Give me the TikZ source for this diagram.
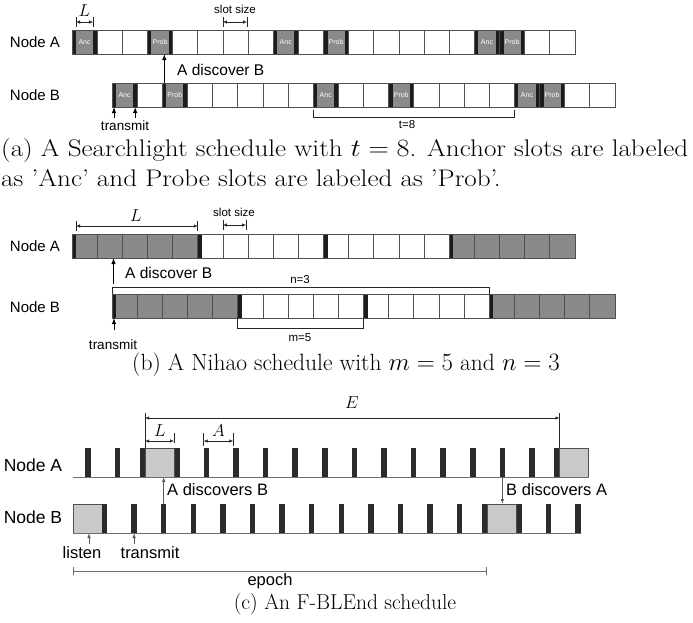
\documentclass[tikz,border=0pt]{standalone}
\usepackage{fontspec}
\setsansfont{Liberation Sans}
\usetikzlibrary{arrows.meta,calc}
\definecolor{SlotGray}{HTML}{8A8A8A}
\definecolor{SlotEdge}{HTML}{505050}
\definecolor{BarBlack}{HTML}{1C1C1C}
\definecolor{BarTick}{HTML}{2B2B2B}
\definecolor{BoxGray}{HTML}{C9C9C9}
\definecolor{LineGray}{HTML}{6E6E6E}
\tikzset{
  slot/.style={draw=SlotEdge, line width=0.8pt, minimum width=25.15pt,
               minimum height=24pt, inner sep=0pt, outer sep=0pt},
  wt/.style={fill=white},
  gr/.style={fill=SlotGray},
  leadbar/.style={path picture={\fill[BarBlack] (path picture bounding box.north west)
                  rectangle ([xshift=4pt]path picture bounding box.south west);}},
  gl/.style={gr, leadbar},
  wl/.style={wt, leadbar},
  sp/.style={fill=SlotGray, text=white, font=\sffamily\fontsize{7}{7}\selectfont,
             path picture={\fill[BarBlack] (path picture bounding box.north west)
               rectangle ([xshift=4pt]path picture bounding box.south west);
               \fill[BarBlack] (path picture bounding box.north east)
               rectangle ([xshift=-4pt]path picture bounding box.south east);}},
  tick/.style={fill=BarTick, minimum width=5.5pt, minimum height=29pt,
               inner sep=0pt, outer sep=0pt, anchor=south},
  lbox/.style={draw=SlotEdge, fill=BoxGray, line width=0.6pt, minimum width=29pt,
               minimum height=29pt, inner sep=0pt, outer sep=0pt},
  track/.style={draw=LineGray, line width=1pt},
  nodename/.style={font=\sffamily\fontsize{15}{15}\selectfont},
  nodenamec/.style={font=\sffamily\fontsize{17.5}{17.5}\selectfont},
  note/.style={font=\sffamily\fontsize{15.5}{16}\selectfont, inner sep=1pt},
  txlabel/.style={font=\sffamily\fontsize{13.5}{14}\selectfont, inner sep=1pt},
  small/.style={font=\sffamily\fontsize{11.5}{12}\selectfont, inner sep=1pt},
  clabel/.style={font=\sffamily\fontsize{16.5}{17}\selectfont, inner sep=1pt},
  mathlbl/.style={font=\fontsize{18}{18}\selectfont, inner sep=1pt},
  caption/.style={font=\fontsize{21.5}{27}\selectfont, inner sep=0pt},
  arrow/.style={-{Latex[length=6pt,width=4.5pt]}, line width=1pt, black},
  thinarrow/.style={-{Latex[length=5pt,width=3.5pt]}, line width=0.8pt, LineGray!80!black},
  dimarrow/.style={{Latex[length=4pt,width=3.5pt]}-{Latex[length=4pt,width=3.5pt]},
                   line width=0.7pt, black!85},
  dimthin/.style={line width=0.7pt, black!85},
  bracket/.style={line width=0.8pt, black!85},
  epoch/.style={{Bar[width=8pt]}-{Bar[width=8pt]}, line width=0.8pt, LineGray},
}

\begin{document}
\begin{tikzpicture}[x=1pt, y=-1pt]
  \useasboundingbox (0,0) rectangle (693,622);

  % Searchlight
  \node[nodename] (aNA) at (35,42) {Node A};
  \node[nodename] (aNB) at (35,95) {Node B};
  \foreach \sty/\lab [count=\i from 0] in {sp/Anc,wt/{},wt/{},sp/Prob,wt/{},wt/{},wt/{},wt/{},sp/Anc,wt/{},sp/Prob,wt/{},wt/{},wt/{},wt/{},wt/{},sp/Anc,sp/Prob,wt/{},wt/{}}
    \node[slot, \sty] (sA\i) at ({84.575+25.15*\i}, 42) {\lab};
  \foreach \sty/\lab [count=\i from 0] in {sp/Anc,wt/{},sp/Prob,wt/{},wt/{},wt/{},wt/{},wt/{},sp/Anc,wt/{},wt/{},sp/Prob,wt/{},wt/{},wt/{},wt/{},sp/Anc,sp/Prob,wt/{},wt/{}}
    \node[slot, \sty] (sB\i) at ({124.575+25.15*\i}, 95) {\lab};

  \coordinate (aL1) at ($(sA0.north west)+(4,-8)$);
  \coordinate (aL2) at ($(sA0.north east)+(-4,-8)$);
  \draw[dimarrow] (aL1) -- (aL2);
  \draw[dimthin] (aL1) ++(0,-5) -- ++(0,10) (aL2) ++(0,-5) -- ++(0,10);
  \node[mathlbl] (aL) at (84.5,11) {$L$};

  \coordinate (aS1) at ($(sA6.north west)+(0,-8)$);
  \coordinate (aS2) at ($(sA6.north east)+(-1,-8)$);
  \draw[dimarrow] (aS1) -- (aS2);
  \draw[dimthin] (aS1) ++(0,-5) -- ++(0,10) (aS2) ++(0,-5) -- ++(0,10);
  \node[small] (aSlot) at (235,9) {slot size};

  \coordinate (aDis) at ([xshift=2pt]sB2.north west);
  \draw[arrow] (aDis) -- (aDis |- sA3.south);
  \node[note, anchor=west] (aDisT) at (176,70) {A discover B};

  \node[txlabel] (aTx) at (125,126) {transmit};
  \coordinate (aTx1) at ([xshift=2pt]sB0.south west);
  \coordinate (aTx2) at ([xshift=-2pt]sB0.south east);
  \draw[arrow] ($(aTx1)+(0,11)$) -- (aTx1);
  \draw[arrow] ($(aTx2)+(0,11)$) -- (aTx2);

  \draw[bracket] ($(sB8.south west)+(0,3)$) -- ($(sB8.south west)+(0,10)$)
    -- ($(sB16.south west)+(0,10)$) -- ($(sB16.south west)+(0,3)$);
  \node[small] (aT) at (407,125) {t=8};

  \node[caption, font=\fontsize{24}{27}\selectfont, anchor=west] (capA1) at (1,151)
    {\scalebox{1.13}[1]{\makebox[608pt][s]{(a) A Searchlight schedule with $t=8$. Anchor slots are labeled}}};
  \node[caption, font=\fontsize{24}{27}\selectfont, anchor=west] (capA2) at (1,178)
    {\scalebox{1.13}[1]{as 'Anc' and Probe slots are labeled as 'Prob'.}};

  % Nihao
  \node[nodename] (nNA) at (35,246) {Node A};
  \node[nodename] (nNB) at (35,307) {Node B};
  \foreach \sty [count=\i from 0] in {gl,gr,gr,gr,gr,wl,wt,wt,wt,wt,wl,wt,wt,wt,wt,gl,gr,gr,gr,gr}
    \node[slot, \sty] (nA\i) at ({84.575+25.15*\i}, 246) {};
  \foreach \sty [count=\i from 0] in {gl,gr,gr,gr,gr,wl,wt,wt,wt,wt,wl,wt,wt,wt,wt,gl,gr,gr,gr,gr}
    \node[slot, \sty] (nB\i) at ({124.575+25.15*\i}, 306) {};

  \coordinate (nL1) at ($(nA0.north west)+(4,-8)$);
  \coordinate (nL2) at ($(nA4.north east)+(0,-8)$);
  \draw[dimarrow] (nL1) -- (nL2);
  \draw[dimthin] (nL1) ++(0,-5) -- ++(0,10) (nL2) ++(0,-5) -- ++(0,10);
  \node[mathlbl] (nL) at (136,216) {$L$};

  \coordinate (nS1) at ($(nA6.north west)+(0,-9)$);
  \coordinate (nS2) at ($(nA6.north east)+(-2,-9)$);
  \draw[dimarrow] (nS1) -- (nS2);
  \draw[dimthin] (nS1) ++(0,-5) -- ++(0,10) (nS2) ++(0,-5) -- ++(0,10);
  \node[small] (nSlot) at (234,212) {slot size};

  \coordinate (nDis) at ($(nB0.north west)+(1.5,-10)$);
  \draw[arrow] (nDis) -- (nDis |- nA0.south);
  \node[note, anchor=west] (nDisT) at (124,273) {A discover B};

  \draw[bracket] (nB0.north west) -- ++(0,-7) -| (nB15.north west);
  \node[small] (nN) at (300,280) {n=3};
  \draw[bracket] (nB5.south west) -- ++(0,10) -| (nB10.south west);
  \node[small] (nM) at (300,338) {m=5};

  \node[txlabel] (nTx) at (113,345) {transmit};
  \coordinate (nTx1) at ([xshift=2pt]nB0.south west);
  \draw[arrow] ($(nTx1)+(0,12)$) -- (nTx1);

  \node[caption, font=\fontsize{23.5}{27}\selectfont] (capB) at (346,365) {(b) A Nihao schedule with $m=5$ and $n=3$};

  % F-BLEnd
  \node[nodenamec] (fNA) at (33,465) {Node A};
  \node[nodenamec] (fNB) at (33,517) {Node B};
  \coordinate (fA0s) at (73,477);
  \foreach \k in {0,1,3,4,5,6,7,8,9,10,11,12,13,14,15}
    \node[tick] (fA\k) at ({88+29.6*\k},477) {};
  \node[lbox, anchor=south east] (fAbox1) at (fA3.south west) {};
  \node[tick, anchor=south east] (fAlb1) at (fAbox1.south west) {};
  \node[tick] (fAlb2) at (556.75,477) {};
  \node[lbox, anchor=south west] (fAbox2) at (fAlb2.south east) {};
  \draw[track] (fA0s) -- (fAbox2.south east);

  \node[lbox, anchor=south west] (fBbox1) at (73,533) {};
  \foreach \j in {0,1,2,3,4,5,6,7,8,9,10,11,12,14,15,16}
    \node[tick] (fB\j) at ({104.5+29.6*\j},533) {};
  \node[lbox, anchor=south east] (fBbox2) at (fB14.south west) {};
  \node[tick, anchor=south east] (fBlb2) at (fBbox2.south west) {};
  \draw[track] (fBbox1.south west) -- (fB16.south east);

  \draw[thinarrow] (fB2.north) -- (fB2.north |- fA0s);
  \node[clabel, anchor=west] (fAdis) at (166,490) {A discovers B};
  \draw[thinarrow] (fA14.south) -- (fA14.south |- fBbox2.north);
  \node[clabel, anchor=west] (fBdis) at (505,490) {B discovers A};

  \draw[dimthin] (fAbox1.north west) -- ++(0,-35);
  \draw[dimthin] (fAbox2.north west) -- ++(0,-35);
  \draw[dimarrow] ($(fAbox1.north west)+(0,-30)$) -- ($(fAbox2.north west)+(0,-30)$);
  \node[mathlbl] (fE) at (352,403) {$E$};

  \draw[dimarrow] ($(fAbox1.north west)+(0,-7)$) -- ($(fAbox1.north east)+(0,-7)$);
  \draw[dimthin] ($(fAbox1.north east)+(0,-5)$) -- ++(0,-10);
  \node[mathlbl] (fL) at (160,431) {$L$};

  \coordinate (fA4t) at (fA4.north west);
  \coordinate (fA5t) at (fA5.north west);
  \draw[dimarrow] ($(fA4t)+(0,-7)$) -- ($(fA5t)+(0,-7)$);
  \draw[dimthin] ($(fA4t)+(0,-2)$) -- ++(0,-13) ($(fA5t)+(0,-2)$) -- ++(0,-13);
  \node[mathlbl] (fA) at (218.5,431) {$A$};

  \node[clabel] (fLis) at (82,553) {listen};
  \draw[thinarrow] ($(fBbox1.south)+(1.5,11)$) -- ($(fBbox1.south)+(1.5,0)$);
  \node[clabel] (fTx) at (150,553) {transmit};
  \draw[thinarrow] ($(fB1.south)+(0,11)$) -- (fB1.south);

  \coordinate (fEpL) at (73,571);
  \coordinate (fEpR) at (fBbox2.south west |- fEpL);
  \draw[epoch] (fEpL) -- (fEpR);
  \node[clabel] (fEp) at (270,581) {epoch};

  \node[caption] (capC) at (345,604) {(c) An F-BLEnd schedule};

\end{tikzpicture}
\end{document}
